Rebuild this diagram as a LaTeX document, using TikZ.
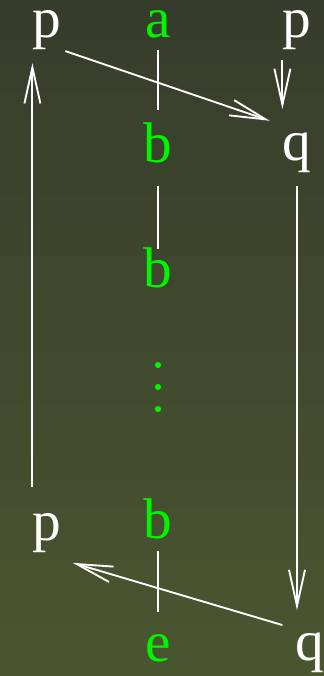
\documentclass[tikz,border=0pt]{standalone}
\usepackage{fontspec}
\setmainfont{Liberation Serif}
\usetikzlibrary{arrows.meta,calc}
\definecolor{bgtop}{RGB}{54,60,43}
\definecolor{bgbot}{RGB}{74,86,48}
\definecolor{sym}{RGB}{0,245,0}
\tikzset{
  st/.style={text=white, font=\fontsize{43}{50}\selectfont, inner sep=0pt,
             text height=26pt, text depth=9.4pt, anchor=base},
  ch/.style={st, text=sym},
  ar/.style={-{Straight Barb[length=27pt,width=12pt]}, line width=1.4pt, draw=white},
  tick/.style={line width=1.4pt, draw=white}
}
\begin{document}
\begin{tikzpicture}[x=0.75pt,y=-0.75pt]
  \shade[top color=bgtop, bottom color=bgbot] (0,0) rectangle (324,676);
  \useasboundingbox (0,0) rectangle (324,676);

  % states
  \node[st] (p1) at (47,37) {p};
  \node[st] (p2) at (297,37) {p};
  \node[st] (q1) at (297,160) {q};
  \node[st] (p3) at (47,540) {p};
  \node[st] (q3) at (310,660) {q};

  % tape
  \node[ch] (a)  at (158,37)  {a};
  \node[ch] (b1) at (158,162) {b};
  \node[ch] (b2) at (158,287) {b};
  \node[ch] (b3) at (158,538) {b};
  \node[ch] (e)  at (158,661) {e};
  \foreach \y in {365,387,409}
    \fill[sym] (158,\y) circle (2.3pt);

  \draw[tick, shorten >=12.7pt] (a.south) -- (b1.north);
  \draw[tick, shorten <=8.6pt, shorten >=2.2pt] (b1.south) -- (b2.north);
  \draw[tick, shorten >=10.5pt] (b3.south) -- (e.north);

  % moves
  \draw[ar, shorten <=3pt, shorten >=10pt] (p1.south east) -- (q1.north west);
  \draw[ar, shorten <=8pt, shorten >=12pt] (p2.south west) -- (q1.north west);
  \draw[ar, shorten <=10pt, shorten >=11.2pt] (q1.south) -- (q1.south |- q3.north);
  \draw[ar] ($(q3.north west)+(-13,0)$) -- ($(p3.south east)+(11,10)$);
  \draw[ar, shorten <=13.5pt, shorten >=10pt] (p3.north west) -- (p1.south west);
\end{tikzpicture}
\end{document}
